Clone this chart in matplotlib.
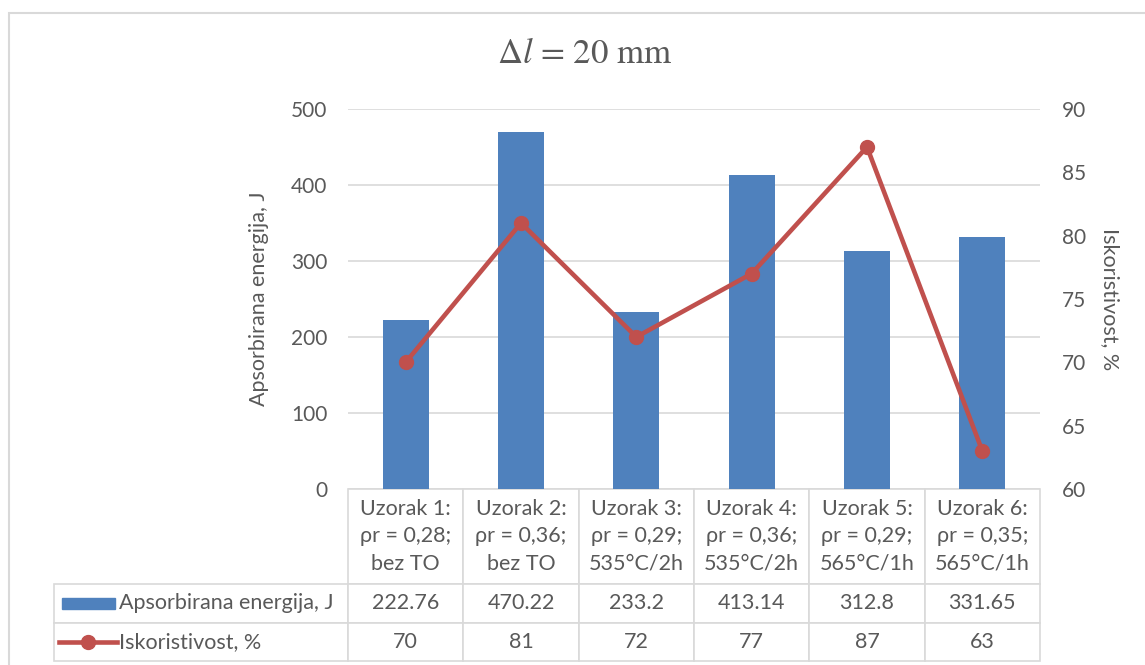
import numpy as np
import matplotlib.pyplot as plt
from matplotlib.patches import Rectangle
from matplotlib.lines import Line2D

# data
categories = ["Uzorak 1:\nρr = 0,28;\nbez TO",
              "Uzorak 2:\nρr = 0,36;\nbez TO",
              "Uzorak 3:\nρr = 0,29;\n535°C/2h",
              "Uzorak 4:\nρr = 0,36;\n535°C/2h",
              "Uzorak 5:\nρr = 0,29;\n565°C/1h",
              "Uzorak 6:\nρr = 0,35;\n565°C/1h"]
energy = [222.76, 470.22, 233.2, 413.14, 312.8, 331.65]
efficiency = [70, 81, 72, 77, 87, 63]
energy_label = "Apsorbirana energija, J"
eff_label = "Iskoristivost, %"
left_ticks = [0, 100, 200, 300, 400, 500]
right_ticks = [60, 65, 70, 75, 80, 85, 90]

BAR_COLOR = "#4F81BD"
LINE_COLOR = "#C0504D"
TEXT_COLOR = "#595959"
GRID_COLOR = "#D9D9D9"
FONT = "Lato"
FS = 15.5
TICK_FS = 15

plt.rcParams['font.family'] = [FONT, 'DejaVu Sans']
plt.rcParams['mathtext.fontset'] = 'stix'

W, H = 1145, 665
fig = plt.figure(figsize=(W / 100, H / 100), dpi=100)

# chart border
fig.patches.append(Rectangle((9 / W, -0.01), 1.02, (H - 12.5) / H + 0.01,
                             transform=fig.transFigure, fill=False,
                             edgecolor=GRID_COLOR, linewidth=1.5))

# plot area in pixels
px_l, px_r, px_t, px_b = 348, 1040, 109, 489
ax = fig.add_axes([px_l / W, (H - px_b) / H, (px_r - px_l) / W, (px_b - px_t) / H])
ax2 = ax.twinx()

x = np.arange(len(categories))
ax.bar(x, energy, width=0.4, color=BAR_COLOR, zorder=2)
ax.set_xlim(-0.5, len(categories) - 0.5)
ax.set_ylim(0, 500)
ax.set_yticks(left_ticks)
ax.yaxis.grid(True, color=GRID_COLOR, linewidth=1.2, zorder=0)
ax.set_axisbelow(True)
ax.set_xticks([])
for s in ax.spines.values():
    s.set_visible(False)
ax.tick_params(axis='y', length=0, pad=15, labelsize=TICK_FS, labelcolor=TEXT_COLOR)
ax.set_ylabel(energy_label, fontsize=FS, color=TEXT_COLOR, labelpad=16)

ax2.plot(x, efficiency, color=LINE_COLOR, linewidth=3.3, marker='o', markersize=10,
         solid_capstyle='round')
ax2.set_ylim(60, 90)
ax2.set_yticks(right_ticks)
for s in ax2.spines.values():
    s.set_visible(False)
ax2.tick_params(axis='y', length=0, pad=16, labelsize=TICK_FS, labelcolor=TEXT_COLOR)
ax2.set_ylabel(eff_label, fontsize=FS, color=TEXT_COLOR, rotation=270, labelpad=24)

# data table under the plot (bbox covers the data cells, row labels hang left)
tab_l, tab_b = 54, 661
head_h, row_h = 95, 38.5
col_w = (px_r - px_l) / len(categories)
ax_w, ax_h = px_r - px_l, px_b - px_t

cell_text = [[f"{v:g}" for v in energy], [f"{v:g}" for v in efficiency]]
table = ax.table(cellText=cell_text, colLabels=categories, cellLoc='center',
                 bbox=[0, (px_b - tab_b) / ax_h, 1, (tab_b - px_b) / ax_h])
for i, lab in enumerate([energy_label, eff_label]):
    table.add_cell(i + 1, -1, width=(px_l - tab_l) / ax_w, height=row_h / ax_h,
                   text=lab, loc='left')
table.auto_set_font_size(False)
table.set_fontsize(FS)
for (r, c), cell in table.get_celld().items():
    cell.set_edgecolor(GRID_COLOR)
    cell.set_linewidth(1.2)
    cell.get_text().set_color(TEXT_COLOR)
    cell.set_height((head_h if r == 0 else row_h) / ax_h)
    if c == -1:
        cell.PAD = (119 - tab_l) / (px_l - tab_l)
    else:
        cell.set_width(col_w / ax_w)
    if r == 0:
        cell.get_text().set_linespacing(1.45)

# legend keys inside the table
def fx(px):
    return (px - px_l) / ax_w

def fy(py):
    return (px_b - py) / ax_h

y1 = px_b + head_h + row_h / 2
y2 = px_b + head_h + row_h * 1.5
ax.add_patch(Rectangle((fx(62), fy(y1 + 5.5)), fx(115) - fx(62), 11 / ax_h,
                       transform=ax.transAxes, color=BAR_COLOR, clip_on=False))
ax.add_line(Line2D([fx(59), fx(117)], [fy(y2), fy(y2)], transform=ax.transAxes,
                   color=LINE_COLOR, linewidth=3.3, clip_on=False))
ax.add_line(Line2D([fx(88)], [fy(y2)], transform=ax.transAxes, marker='o',
                   markersize=10, color=LINE_COLOR, clip_on=False))

fig.text(585 / W, (H - 55) / H, r'$\Delta l$ = 20 mm', fontsize=25,
         family='STIXGeneral', color=TEXT_COLOR, ha='center', va='center')

fig.savefig("out.png", dpi=100)
